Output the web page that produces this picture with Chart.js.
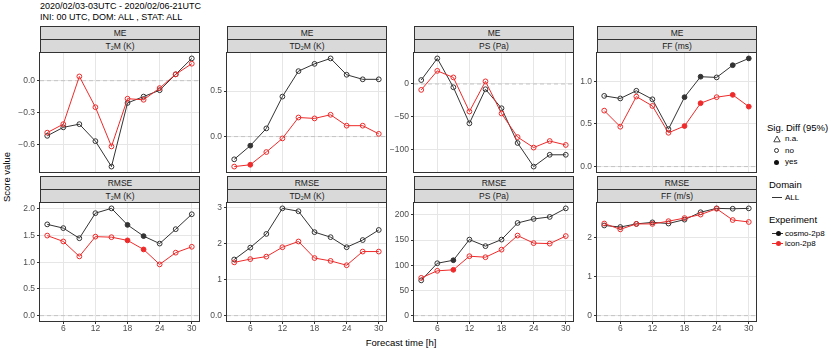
<!DOCTYPE html>
<html>
<head>
  <meta charset="utf-8">
  <title>Score value</title>
  <script src="https://cdn.jsdelivr.net/npm/chart.js@4.4.0/dist/chart.umd.min.js"></script>
  <style>
    body {
      margin: 0;
      padding: 0;
      background: #fff;
      font-family: "Liberation Sans", Arial, sans-serif;
    }

    #wrap {
      position: relative;
      width: 831px;
      height: 348px;
      overflow: hidden;
    }

    #wrap canvas, .abs {
      position: absolute;
    }

    .title {
      left: 40px;
      font-size: 9px;
      line-height: 11px;
      white-space: nowrap;
      color: #000;
    }

    .strip {
      position: absolute;
      box-sizing: border-box;
      height: 14px;
      border: 1px solid #333;
      background: #d9d9d9;
      color: #1a1a1a;
      font-size: 8.5px;
      line-height: 12px;
      text-align: center;
      white-space: nowrap;
    }

    .strip sub {
      font-size: 5.5px;
      vertical-align: -1px;
      line-height: 0;
    }

    .lab {
      font-size: 9.5px;
      line-height: 12px;
      white-space: nowrap;
      color: #000;
    }

    .item {
      font-size: 8px;
      line-height: 10px;
      white-space: nowrap;
      color: #000;
    }
  </style>
</head>
<body>
  <div id="wrap">
    <div class="abs title" style="top:0.5px">2020/02/03-03UTC - 2020/02/06-21UTC</div>
    <div class="abs title" style="top:11.5px">INI: 00 UTC, DOM: ALL , STAT: ALL</div>

    <div class="abs lab" style="left:-43px; top:171px; width:100px; text-align:center; transform:rotate(-90deg);">Score value</div>
    <div class="abs lab" style="left:301px; top:337px; width:200px; text-align:center;">Forecast time [h]</div>

    <!-- legend -->
    <div class="abs lab" style="left:767px; top:122px;">Sig. Diff (95%)</div>
    <svg class="abs" style="left:773px; top:135px;" width="8" height="8">
      <polygon points="4,1 7.2,6.8 0.8,6.8" fill="none" stroke="#333" stroke-width="0.9"/>
    </svg>
    <div class="abs item" style="left:785px; top:134px;">n.a.</div>
    <div class="abs" style="left:774px; top:148px; width:5px; height:5px; border:1px solid #333; border-radius:50%; box-sizing:border-box;"></div>
    <div class="abs item" style="left:785px; top:145.5px;">no</div>
    <div class="abs" style="left:774px; top:159.5px; width:5px; height:5px; background:#111; border-radius:50%;"></div>
    <div class="abs item" style="left:785px; top:157px;">yes</div>

    <div class="abs lab" style="left:769px; top:178.5px;">Domain</div>
    <div class="abs" style="left:772px; top:197px; width:10px; height:1px; background:#333;"></div>
    <div class="abs item" style="left:785px; top:192.5px;">ALL</div>

    <div class="abs lab" style="left:769px; top:214px;">Experiment</div>
    <div class="abs" style="left:772px; top:233px; width:11px; height:1px; background:#333;"></div>
    <div class="abs" style="left:775.5px; top:231px; width:5px; height:5px; background:#111; border-radius:50%;"></div>
    <div class="abs item" style="left:785px; top:228.5px;">cosmo-2p8</div>
    <div class="abs" style="left:772px; top:243px; width:11px; height:1px; background:#ee2a2a;"></div>
    <div class="abs" style="left:775.5px; top:241px; width:5px; height:5px; background:#ee2a2a; border-radius:50%;"></div>
    <div class="abs item" style="left:785px; top:238.5px;">icon-2p8</div>
  </div>

  <script>
    // forecast lead times [h]
    const hours = [3, 6, 9, 12, 15, 18, 21, 24, 27, 30];
    const hourTicks = [6, 12, 18, 24, 30];
    const hourLabels = ['6', '12', '18', '24', '30'];
    const zeroLine = 0;

    // ME T2M (K)
    const meT2mCosmo = [-0.52, -0.44, -0.41, -0.57, -0.81, -0.21, -0.15, -0.09, 0.06, 0.21];
    const meT2mIcon = [-0.49, -0.41, 0.04, -0.25, -0.62, -0.17, -0.18, -0.07, 0.06, 0.16];
    const meT2mSig = ['no', 'no', 'no', 'no', 'no', 'no', 'no', 'no', 'no', 'no'];
    const meT2mTicks = [-0.6, -0.3, 0];
    const meT2mLabels = ['\u22120.6', '\u22120.3', '0.0'];

    // ME TD2M (K)
    const meTd2mCosmo = [-0.25, -0.10, 0.09, 0.44, 0.72, 0.80, 0.86, 0.68, 0.63, 0.63];
    const meTd2mIcon = [-0.33, -0.31, -0.17, -0.02, 0.21, 0.20, 0.24, 0.12, 0.12, 0.03];
    const meTd2mSig = ['no', 'yes', 'no', 'no', 'no', 'no', 'no', 'no', 'no', 'no'];
    const meTd2mTicks = [0, 0.5];
    const meTd2mLabels = ['0.0', '0.5'];

    // ME PS (Pa)
    const mePsCosmo = [6, 39, -5, -60, -8, -37, -90, -126, -108, -108];
    const mePsIcon = [-9, 20, 10, -42, 4, -45, -81, -97, -87, -93];
    const mePsSig = ['no', 'no', 'no', 'no', 'no', 'no', 'no', 'no', 'no', 'no'];
    const mePsTicks = [-100, -50, 0];
    const mePsLabels = ['\u2212100', '\u221250', '0'];

    // ME FF (ms)
    const meFfCosmo = [0.83, 0.80, 0.89, 0.79, 0.44, 0.815, 1.055, 1.047, 1.19, 1.27];
    const meFfIcon = [0.657, 0.468, 0.822, 0.712, 0.397, 0.476, 0.744, 0.815, 0.842, 0.704];
    const meFfSig = ['no', 'no', 'no', 'no', 'no', 'yes', 'yes', 'no', 'yes', 'yes'];
    const meFfTicks = [0, 0.5, 1];
    const meFfLabels = ['0.0', '0.5', '1.0'];

    // RMSE T2M (K)
    const rmseT2mCosmo = [1.71, 1.64, 1.45, 1.92, 2.01, 1.70, 1.49, 1.35, 1.62, 1.90];
    const rmseT2mIcon = [1.50, 1.39, 1.11, 1.48, 1.47, 1.41, 1.24, 0.96, 1.18, 1.29];
    const rmseT2mSig = ['no', 'no', 'no', 'no', 'no', 'yes', 'yes', 'no', 'no', 'no'];
    const rmseT2mTicks = [0, 0.5, 1, 1.5, 2];
    const rmseT2mLabels = ['0.0', '0.5', '1.0', '1.5', '2.0'];

    // RMSE TD2M (K)
    const rmseTd2mCosmo = [1.56, 1.89, 2.27, 2.98, 2.90, 2.32, 2.18, 1.90, 2.10, 2.38];
    const rmseTd2mIcon = [1.48, 1.57, 1.64, 1.90, 2.06, 1.60, 1.52, 1.40, 1.78, 1.78];
    const rmseTd2mSig = ['no', 'no', 'no', 'no', 'no', 'no', 'no', 'no', 'no', 'no'];
    const rmseTd2mTicks = [0, 1, 2, 3];
    const rmseTd2mLabels = ['0.0', '1', '2', '3'];

    // RMSE PS (Pa)
    const rmsePsCosmo = [70, 104, 110, 151, 138, 151, 184, 192, 196, 213];
    const rmsePsIcon = [75, 89, 91, 118, 116, 131, 159, 144, 143, 158];
    const rmsePsSig = ['no', 'no', 'yes', 'no', 'no', 'no', 'no', 'no', 'no', 'no'];
    const rmsePsTicks = [0, 50, 100, 150, 200];
    const rmsePsLabels = ['0', '50', '100', '150', '200'];

    // RMSE FF (m/s)
    const rmseFfCosmo = [2.32, 2.28, 2.36, 2.40, 2.37, 2.47, 2.66, 2.76, 2.75, 2.76];
    const rmseFfIcon = [2.37, 2.22, 2.36, 2.36, 2.43, 2.51, 2.60, 2.75, 2.46, 2.41];
    const rmseFfSig = ['no', 'no', 'no', 'no', 'no', 'no', 'no', 'no', 'no', 'no'];
    const rmseFfTicks = [0, 1, 2];
    const rmseFfLabels = ['0', '1', '2'];

    // layout of the facet grid
    const colLeft = [40, 227, 414, 597];
    const panelW = 159;
    const rowTop = [53, 203];
    const rowH = [119, 118];
    const stripTop = [26, 176];

    const dark = '#333333';
    const red = '#ee2a2a';
    const gridCol = '#e6e6e6';
    const fontFam = '"Liberation Sans", Arial, sans-serif';

    const panels = [
      { row: 0, col: 0, score: 'ME', name: 'T<sub>2</sub>M (K)', cosmo: meT2mCosmo, icon: meT2mIcon, sig: meT2mSig, ticks: meT2mTicks, labels: meT2mLabels },
      { row: 0, col: 1, score: 'ME', name: 'TD<sub>2</sub>M (K)', cosmo: meTd2mCosmo, icon: meTd2mIcon, sig: meTd2mSig, ticks: meTd2mTicks, labels: meTd2mLabels },
      { row: 0, col: 2, score: 'ME', name: 'PS (Pa)', cosmo: mePsCosmo, icon: mePsIcon, sig: mePsSig, ticks: mePsTicks, labels: mePsLabels },
      { row: 0, col: 3, score: 'ME', name: 'FF (ms)', cosmo: meFfCosmo, icon: meFfIcon, sig: meFfSig, ticks: meFfTicks, labels: meFfLabels },
      { row: 1, col: 0, score: 'RMSE', name: 'T<sub>2</sub>M (K)', cosmo: rmseT2mCosmo, icon: rmseT2mIcon, sig: rmseT2mSig, ticks: rmseT2mTicks, labels: rmseT2mLabels },
      { row: 1, col: 1, score: 'RMSE', name: 'TD<sub>2</sub>M (K)', cosmo: rmseTd2mCosmo, icon: rmseTd2mIcon, sig: rmseTd2mSig, ticks: rmseTd2mTicks, labels: rmseTd2mLabels },
      { row: 1, col: 2, score: 'RMSE', name: 'PS (Pa)', cosmo: rmsePsCosmo, icon: rmsePsIcon, sig: rmsePsSig, ticks: rmsePsTicks, labels: rmsePsLabels },
      { row: 1, col: 3, score: 'RMSE', name: 'FF (m/s)', cosmo: rmseFfCosmo, icon: rmseFfIcon, sig: rmseFfSig, ticks: rmseFfTicks, labels: rmseFfLabels }
    ];

    // panel border like ggplot theme_bw
    const frame = {
      id: 'frame',
      afterDraw(chart) {
        const a = chart.chartArea;
        const ctx = chart.ctx;
        ctx.save();
        ctx.strokeStyle = dark;
        ctx.lineWidth = 1;
        ctx.strokeRect(Math.round(a.left) - 0.5, Math.round(a.top) - 0.5, Math.round(a.width) + 1, Math.round(a.height) + 1);
        ctx.restore();
      }
    };

    function series(label, vals, color, sig) {
      return {
        label: label,
        data: hours.map((h, i) => ({ x: h, y: vals[i] })),
        borderColor: color,
        borderWidth: 1,
        pointRadius: 2.4,
        pointBorderWidth: 1,
        pointBorderColor: color,
        pointBackgroundColor: sig.map(s => s === 'yes' ? color : 'rgba(0,0,0,0)'),
        tension: 0
      };
    }

    const wrap = document.getElementById('wrap');
    const hSpan = hours[hours.length - 1] - hours[0];
    const xMin = hours[0] - hSpan * 0.05;
    const xMax = hours[hours.length - 1] + hSpan * 0.05;

    panels.forEach(p => {
      const L = colLeft[p.col];
      const T = rowTop[p.row];
      const H = rowH[p.row];
      const bottomRow = p.row === 1;

      // strips
      const s1 = document.createElement('div');
      s1.className = 'strip';
      s1.style.left = L + 'px';
      s1.style.width = (panelW + 1) + 'px';
      s1.style.top = stripTop[p.row] + 'px';
      s1.textContent = p.score;
      wrap.appendChild(s1);
      const s2 = document.createElement('div');
      s2.className = 'strip';
      s2.style.left = L + 'px';
      s2.style.width = (panelW + 1) + 'px';
      s2.style.top = (stripTop[p.row] + 13) + 'px';
      s2.innerHTML = p.name;
      wrap.appendChild(s2);

      const padTop = 10, axisW = 36, padRight = 8;
      const axisH = bottomRow ? 16 : 0;
      const padBottom = bottomRow ? 0 : 10;
      const cv = document.createElement('canvas');
      cv.width = axisW + panelW + padRight;
      cv.height = padTop + H + axisH + padBottom;
      cv.style.left = (L - axisW) + 'px';
      cv.style.top = (T - padTop) + 'px';
      wrap.appendChild(cv);

      const all = p.cosmo.concat(p.icon, [zeroLine]);
      const lo = Math.min(...all);
      const hi = Math.max(...all);
      const ex = (hi - lo) * 0.05;

      new Chart(cv, {
        type: 'line',
        data: {
          datasets: [
            series('icon-2p8', p.icon, red, p.sig),
            series('cosmo-2p8', p.cosmo, dark, p.sig),
            {
              label: 'zero',
              data: [{ x: xMin, y: zeroLine }, { x: xMax, y: zeroLine }],
              borderColor: '#c4c4c4',
              borderWidth: 1,
              borderDash: [4, 3],
              pointRadius: 0
            }
          ]
        },
        options: {
          responsive: false,
          animation: false,
          devicePixelRatio: 1,
          layout: { padding: { top: padTop, right: padRight, bottom: padBottom, left: 0 } },
          plugins: { legend: { display: false }, tooltip: { enabled: false } },
          scales: {
            x: {
              type: 'linear',
              min: xMin,
              max: xMax,
              afterBuildTicks: s => { s.ticks = hourTicks.map(v => ({ value: v })); },
              afterFit: s => { s.height = axisH; },
              border: { display: false },
              grid: { color: gridCol, lineWidth: 1, drawTicks: bottomRow, tickLength: 3, tickColor: dark },
              ticks: {
                display: bottomRow,
                padding: 0,
                maxRotation: 0,
                autoSkip: false,
                color: '#4d4d4d',
                font: { size: 8.5, family: fontFam },
                callback: (v, i) => hourLabels[i]
              }
            },
            y: {
              min: lo - ex,
              max: hi + ex,
              afterBuildTicks: s => { s.ticks = p.ticks.map(v => ({ value: v })); },
              afterFit: s => { s.width = axisW; },
              border: { display: false },
              grid: { color: gridCol, lineWidth: 1, drawTicks: true, tickLength: 3, tickColor: dark },
              ticks: {
                padding: 2,
                autoSkip: false,
                color: '#4d4d4d',
                font: { size: 8.5, family: fontFam },
                callback: (v, i) => p.labels[i]
              }
            }
          }
        },
        plugins: [frame]
      });
    });
  </script>
</body>
</html>
